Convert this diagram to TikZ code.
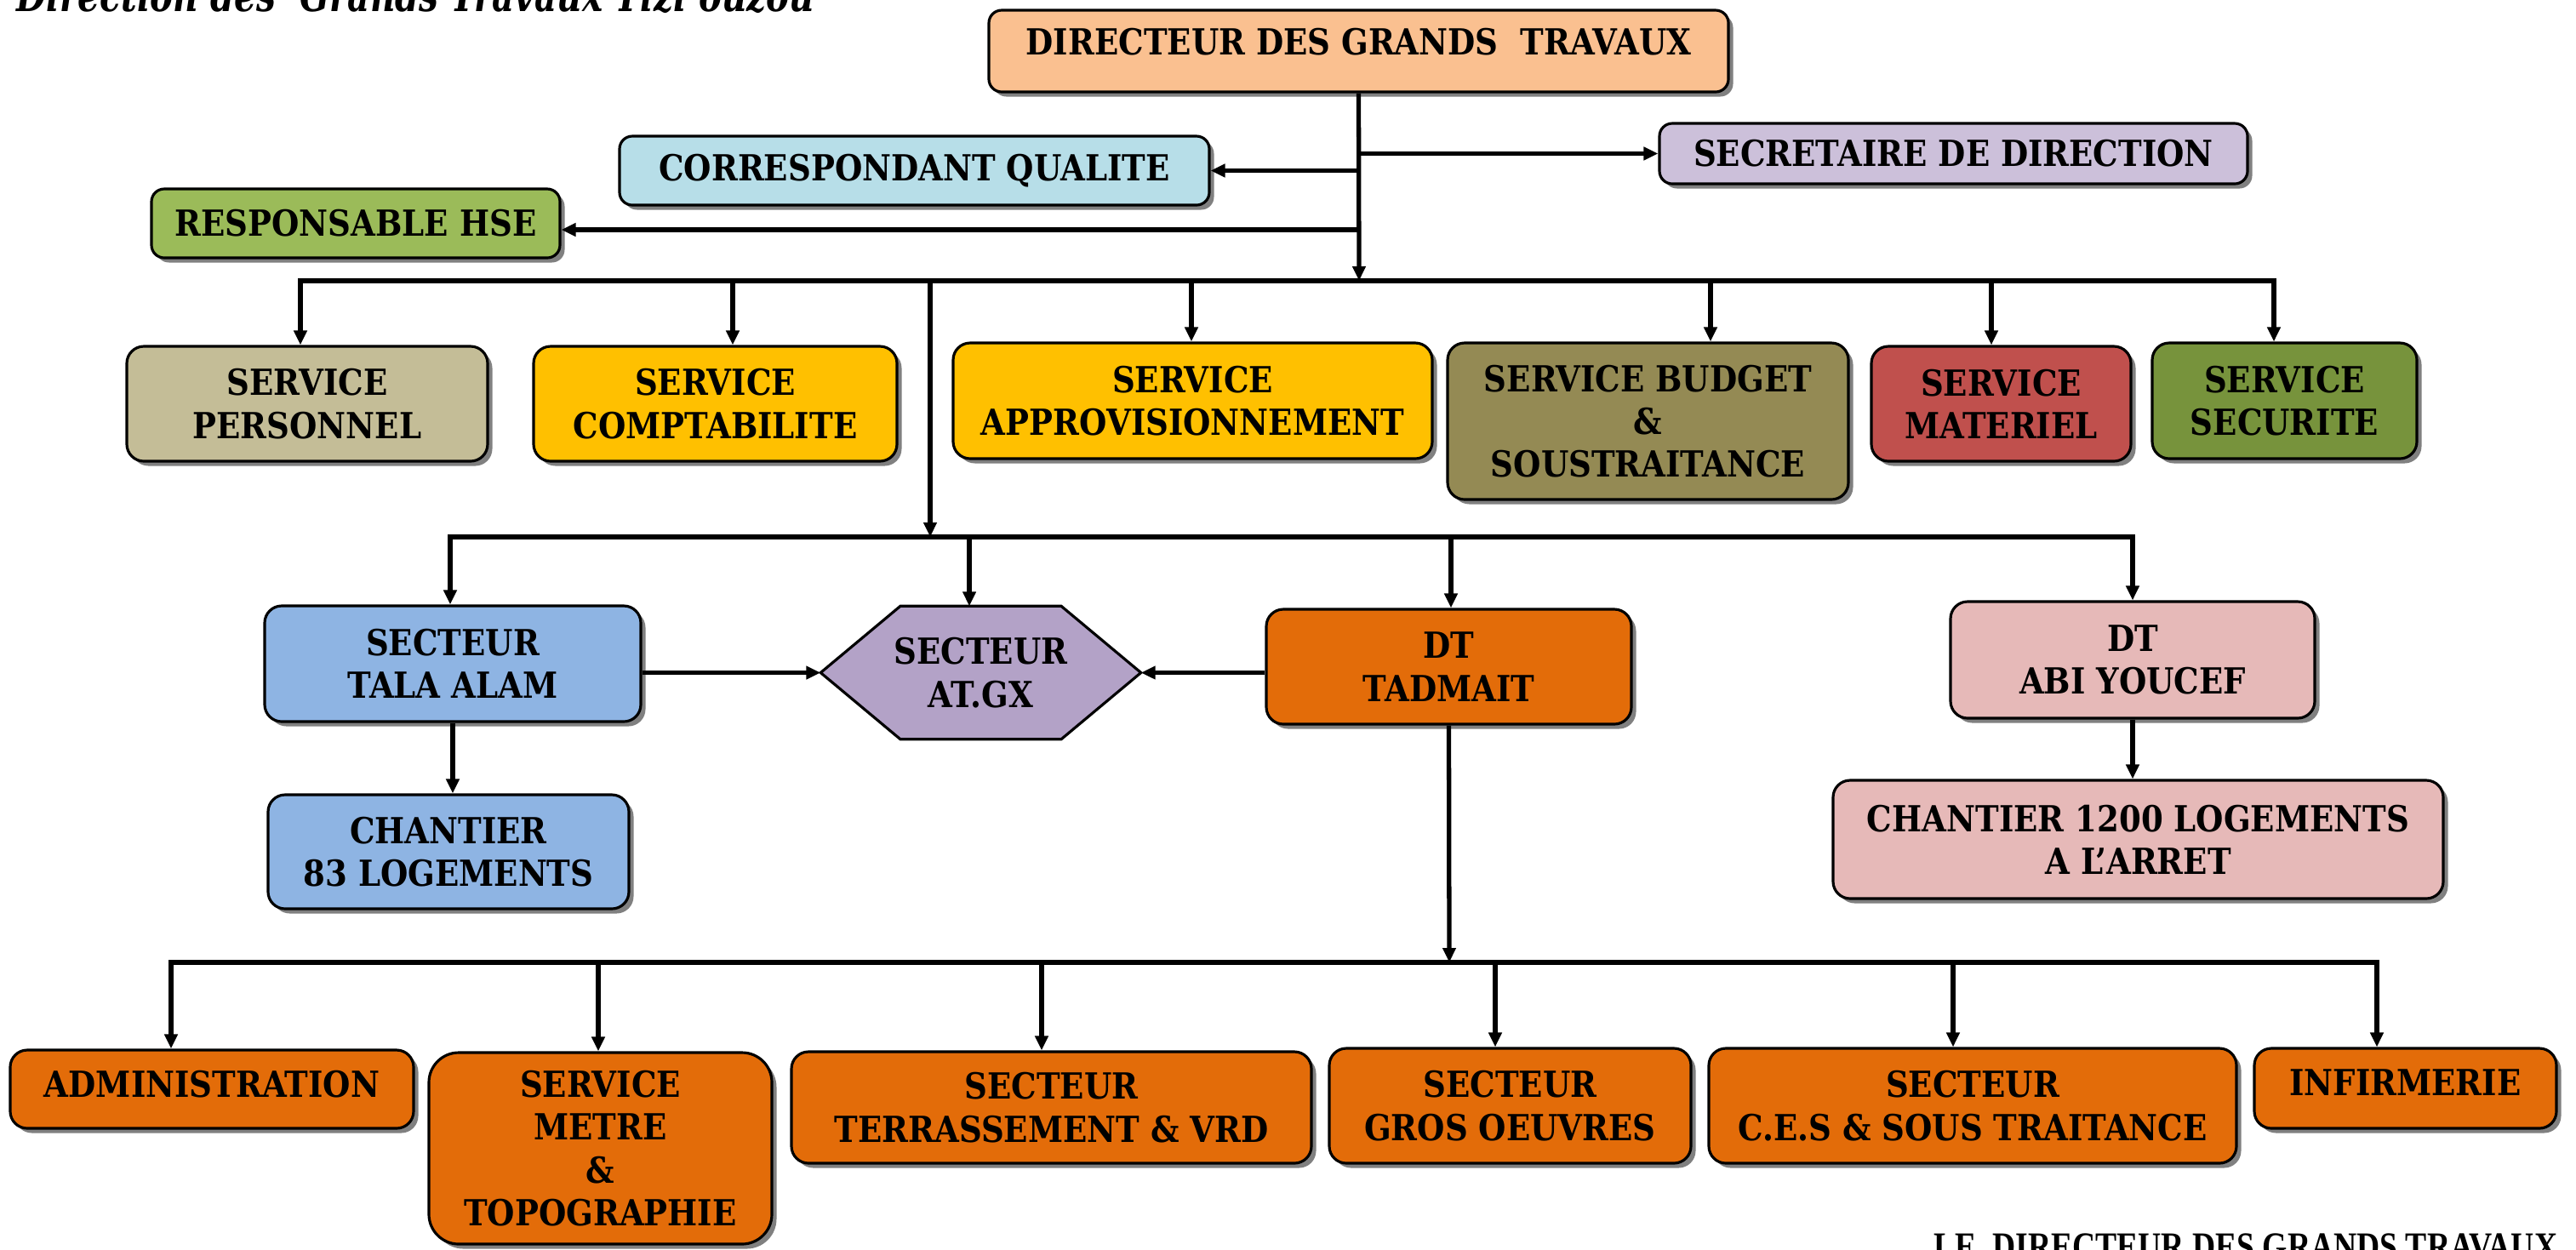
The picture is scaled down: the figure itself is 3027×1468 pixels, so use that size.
\documentclass[tikz,border=0pt]{standalone}
\usepackage{fontspec}
\usetikzlibrary{arrows.meta,shadows,backgrounds}
\newfontfamily\boxfont{DejaVu Serif}[FakeStretch=0.88]
\newfontfamily\ttlfont{DejaVu Serif}[FakeStretch=0.77]
\newfontfamily\sigfont{Liberation Serif}[FakeStretch=0.81]
\definecolor{cDir}{RGB}{250,192,144}
\definecolor{cSec}{RGB}{204,192,218}
\definecolor{cCorr}{RGB}{183,222,232}
\definecolor{cHse}{RGB}{155,187,89}
\definecolor{cPers}{RGB}{196,189,151}
\definecolor{cGold}{RGB}{255,192,0}
\definecolor{cBud}{RGB}{148,138,84}
\definecolor{cMat}{RGB}{192,80,77}
\definecolor{cSecu}{RGB}{119,147,60}
\definecolor{cBlue}{RGB}{142,180,227}
\definecolor{cHex}{RGB}{179,162,199}
\definecolor{cOr}{RGB}{227,108,9}
\definecolor{cPink}{RGB}{230,185,184}
\begin{document}
\begin{tikzpicture}[x=0.01cm,y=-0.01cm,
  wh/.style 2 args={minimum width=#1*0.01cm,minimum height=#2*0.01cm},
  txt/.style={inner sep=2pt,align=center,font=\boxfont\bfseries\fontsize{12}{14.3}\selectfont},
  base/.style={txt,draw=black,line width=0.9pt,
    drop shadow={shadow xshift=0.055cm,shadow yshift=-0.055cm,fill=black!50,opacity=1}},
  box/.style={base,rounded corners=0.2cm},
  arr/.style={line width=1.5pt,-{Triangle[length=0.17cm,width=0.15cm]}},
  ln/.style={line width=1.5pt,line cap=rect}]
\useasboundingbox (0,0) rectangle (3027,1468);

% title texts
\node[anchor=base west,inner sep=0pt,font=\ttlfont\bfseries\itshape\fontsize{15}{17}\selectfont] (ttl) at (19,13) {Direction des\ \ Grands Travaux Tizi ouzou};
\node[anchor=north east,inner sep=0pt,font=\sigfont\bfseries\fontsize{13.2}{15}\selectfont] (sig) at (3006,1449) {LE\ \ DIRECTEUR DES GRANDS TRAVAUX};

% top level
\node[box,fill=cDir,wh={869}{96},text depth=0.22cm,rounded corners=0.15cm] (dir) at (1596.5,60) {DIRECTEUR DES GRANDS\ \ TRAVAUX};
\node[box,fill=cSec,wh={691}{71},rounded corners=0.15cm] (sec) at (2295.5,180.5) {SECRETAIRE DE DIRECTION};
\node[box,fill=cCorr,wh={693}{81},rounded corners=0.15cm] (corr) at (1074.5,200.5) {CORRESPONDANT QUALITE};
\node[box,fill=cHse,wh={480}{81},rounded corners=0.15cm] (hse) at (418,262.5) {RESPONSABLE HSE};

% services
\node[box,fill=cPers,wh={424}{135}] (pers) at (361,474.5) {SERVICE\\PERSONNEL};
\node[box,fill=cGold,wh={427}{135}] (compt) at (840.5,474.5) {SERVICE\\COMPTABILITE};
\node[box,fill=cGold,wh={563}{136}] (appro) at (1401.5,471) {SERVICE\\APPROVISIONNEMENT};
\node[box,fill=cBud,wh={471}{184}] (bud) at (1936.5,495) {SERVICE BUDGET\\\&\\SOUSTRAITANCE};
\node[box,fill=cMat,wh={305}{135}] (mat) at (2351.5,474.5) {SERVICE\\MATERIEL};
\node[box,fill=cSecu,wh={311}{136}] (secu) at (2684.5,471) {SERVICE\\SECURITE};

% sectors
\node[box,fill=cBlue,wh={442}{136}] (tala) at (532,780) {SECTEUR\\TALA ALAM};
\node[txt,wh={375}{155}] (hex) at (1152.5,790.5) {SECTEUR\\AT.GX};
\begin{scope}[on background layer]
  \fill[black!50,xshift=0.055cm,yshift=-0.055cm]
    (hex.west) -- ([xshift=-0.945cm]hex.north) -- ([xshift=0.945cm]hex.north) -- (hex.east)
    -- ([xshift=0.945cm]hex.south) -- ([xshift=-0.945cm]hex.south) -- cycle;
  \filldraw[fill=cHex,draw=black,line width=0.9pt]
    (hex.west) -- ([xshift=-0.945cm]hex.north) -- ([xshift=0.945cm]hex.north) -- (hex.east)
    -- ([xshift=0.945cm]hex.south) -- ([xshift=-0.945cm]hex.south) -- cycle;
\end{scope}
\node[box,fill=cOr,wh={429}{135}] (tad) at (1702.5,783.5) {DT\\TADMAIT};
\node[box,fill=cPink,wh={428}{137}] (abi) at (2506,775.5) {DT\\ABI YOUCEF};
\node[box,fill=cBlue,wh={424}{134}] (ch83) at (527,1001) {CHANTIER\\83 LOGEMENTS};
\node[box,fill=cPink,wh={717}{139}] (ch12) at (2512.5,986.5) {CHANTIER 1200 LOGEMENTS\\A L’ARRET};

% bottom row
\node[box,fill=cOr,wh={474}{92},text depth=0.13cm] (adm) at (249,1280) {ADMINISTRATION};
\node[box,fill=cOr,wh={403}{225},rounded corners=0.35cm] (met) at (705.5,1349.5) {SERVICE\\METRE\\\&\\TOPOGRAPHIE};
\node[box,fill=cOr,wh={611}{131}] (ter) at (1235.5,1301.5) {SECTEUR\\TERRASSEMENT \& VRD};
\node[box,fill=cOr,wh={425}{135}] (gro) at (1774.5,1299.5) {SECTEUR\\GROS OEUVRES};
\node[box,fill=cOr,wh={620}{135}] (ces) at (2318,1299.5) {SECTEUR\\C.E.S \& SOUS TRAITANCE};
\node[box,fill=cOr,wh={355}{94},text depth=0.13cm] (inf) at (2826.5,1279) {INFIRMERIE};

% connectors: director
\coordinate (t1) at (1597,330);
\draw[arr] (dir.south) -- (t1);
\draw[arr] (dir.south |- sec.west) -- (sec.west);
\draw[arr] (dir.south |- corr.east) -- (corr.east);
\coordinate (hy) at (1597,270);
\draw[arr] (hy) -- (hy -| hse.east);

% bar 1
\coordinate (d1) at (353,330);
\coordinate (d2) at (861,330);
\coordinate (d3) at (1400,330);
\coordinate (d4) at (2010,330);
\coordinate (d5) at (2340,330);
\coordinate (d6) at (2672,330);
\draw[ln] (d1) -- (d6);
\draw[arr] (d1) -- (d1 |- pers.north);
\draw[arr] (d2) -- (d2 |- compt.north);
\draw[arr] (d3) -- (d3 |- appro.north);
\draw[arr] (d4) -- (d4 |- bud.north);
\draw[arr] (d5) -- (d5 |- mat.north);
\draw[arr] (d6) -- (d6 |- secu.north);

% trunk 2 and bar 2
\coordinate (t2) at (1093,330);
\coordinate (t2b) at (1093,631);
\draw[arr] (t2) -- (t2b);
\coordinate (e1) at (529,631);
\coordinate (e2) at (1139,631);
\coordinate (e3) at (1705,631);
\coordinate (e4) at (2506,631);
\draw[ln] (e1) -- (e4);
\draw[arr] (e1) -- (e1 |- tala.north);
\draw[arr] (e2) -- (e2 |- hex.north);
\draw[arr] (e3) -- (e3 |- tad.north);
\draw[arr] (e4) -- (e4 |- abi.north);

\draw[arr] (tala.east |- hex.west) -- (hex.west);
\draw[arr] (tad.west |- hex.east) -- (hex.east);
\draw[arr] (tala.south) -- (tala.south |- ch83.north);
\draw[arr] (abi.south) -- (abi.south |- ch12.north);

% trunk 3 and bar 3
\coordinate (t3) at (1703,1131);
\draw[arr] (tad.south) -- (t3);
\coordinate (f1) at (201,1131);
\coordinate (f2) at (703,1131);
\coordinate (f3) at (1224,1131);
\coordinate (f4) at (1757,1131);
\coordinate (f5) at (2295,1131);
\coordinate (f6) at (2793,1131);
\draw[ln] (f1) -- (f6);
\draw[arr] (f1) -- (f1 |- adm.north);
\draw[arr] (f2) -- (f2 |- met.north);
\draw[arr] (f3) -- (f3 |- ter.north);
\draw[arr] (f4) -- (f4 |- gro.north);
\draw[arr] (f5) -- (f5 |- ces.north);
\draw[arr] (f6) -- (f6 |- inf.north);
\end{tikzpicture}
\end{document}
